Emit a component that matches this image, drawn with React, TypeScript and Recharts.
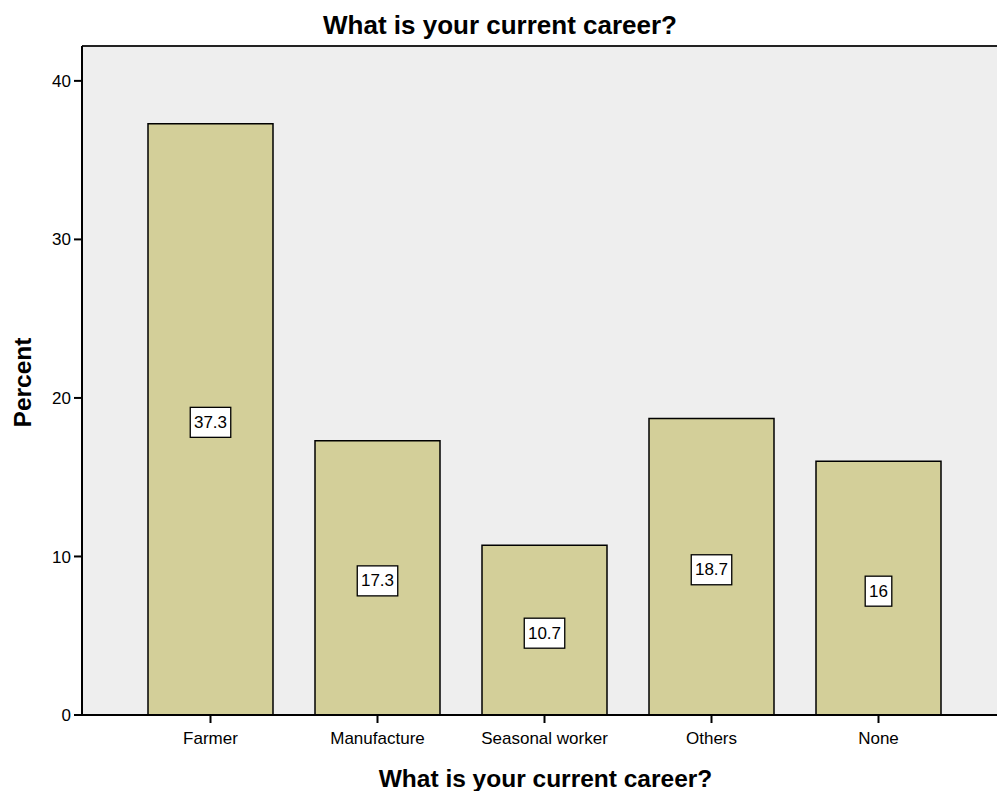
import { BarChart, Bar, XAxis, YAxis, CartesianGrid, LabelList, Label, ReferenceLine } from 'recharts';

const careers = ['Farmer', 'Manufacture', 'Seasonal worker', 'Others', 'None'];
const percents = [37.3, 17.3, 10.7, 18.7, 16];
const yTicks = [0, 10, 20, 30, 40];

const data = careers.map((name, i) => ({ name, percent: percents[i] }));

const FONT = '"Liberation Sans", Arial, sans-serif';

// white boxed value label, centered in the bar
const ValueBox = (props: any) => {
  const { x, y, width, height, value } = props;
  const s = String(value);
  const textW = s.split('').reduce((w, c) => w + (c === '.' ? 4.6 : 9.3), 0);
  const bw = textW + 8;
  const bh = 30;
  const cx = x + width / 2;
  const cy = y + height / 2 + 3;
  return (
    <g>
      <rect x={cx - bw / 2} y={cy - bh / 2} width={bw} height={bh} fill="#fff" stroke="#000" strokeWidth={1.3} />
      <text x={cx} y={cy} textAnchor="middle" dominantBaseline="central" fontSize={17} fontFamily={FONT} fill="#000">
        {s}
      </text>
    </g>
  );
};

export default function App() {
  return (
    <div style={{ position: 'absolute', left: 0, top: 0, width: 997, height: 791, background: '#fff' }}>
      <div
        style={{
          position: 'absolute', left: 0, top: 10, width: 1000, textAlign: 'center',
          fontFamily: FONT, fontWeight: 'bold', fontSize: 26, color: '#000',
        }}
      >
        What is your current career?
      </div>
      <BarChart width={997} height={791} data={data} margin={{ top: 46, right: 0, left: 0, bottom: 0 }}>
        <CartesianGrid fill="#eeeeee" horizontal={false} vertical={false} />
        <XAxis
          dataKey="name"
          height={76}
          padding={{ left: 45, right: 35 }}
          axisLine={{ stroke: '#000', strokeWidth: 2 }}
          tickLine={{ stroke: '#000', strokeWidth: 2 }}
          tickSize={8}
          tickMargin={9}
          tick={{ fill: '#000', fontSize: 17, fontFamily: FONT }}
        >
          <Label
            content={({ viewBox }: any) => (
              <text
                x={viewBox.x + viewBox.width / 2 + 6}
                y={viewBox.y + 63}
                textAnchor="middle"
                dominantBaseline="central"
                fontSize={24.5}
                fontWeight="bold"
                fontFamily={FONT}
                fill="#000"
              >
                What is your current career?
              </text>
            )}
          />
        </XAxis>
        <YAxis
          width={82}
          domain={[0, 42.2]}
          ticks={yTicks}
          axisLine={{ stroke: '#000', strokeWidth: 2 }}
          tickLine={{ stroke: '#000', strokeWidth: 2 }}
          tickSize={8}
          tickMargin={3}
          tick={{ fill: '#000', fontSize: 17, fontFamily: FONT }}
        >
          <Label
            content={({ viewBox }: any) => {
              const cy = viewBox.y + viewBox.height / 2 + 2;
              return (
                <text
                  x={22}
                  y={cy}
                  transform={`rotate(-90, 22, ${cy})`}
                  textAnchor="middle"
                  dominantBaseline="central"
                  fontSize={24.5}
                  fontWeight="bold"
                  fontFamily={FONT}
                  fill="#000"
                >
                  Percent
                </text>
              );
            }}
          />
        </YAxis>
        <ReferenceLine y={42.2} stroke="#222" strokeWidth={2} />
        <Bar dataKey="percent" fill="#d3cf99" stroke="#000" strokeWidth={1.5} barSize={125} isAnimationActive={false}>
          <LabelList dataKey="percent" content={ValueBox} />
        </Bar>
      </BarChart>
    </div>
  );
}
